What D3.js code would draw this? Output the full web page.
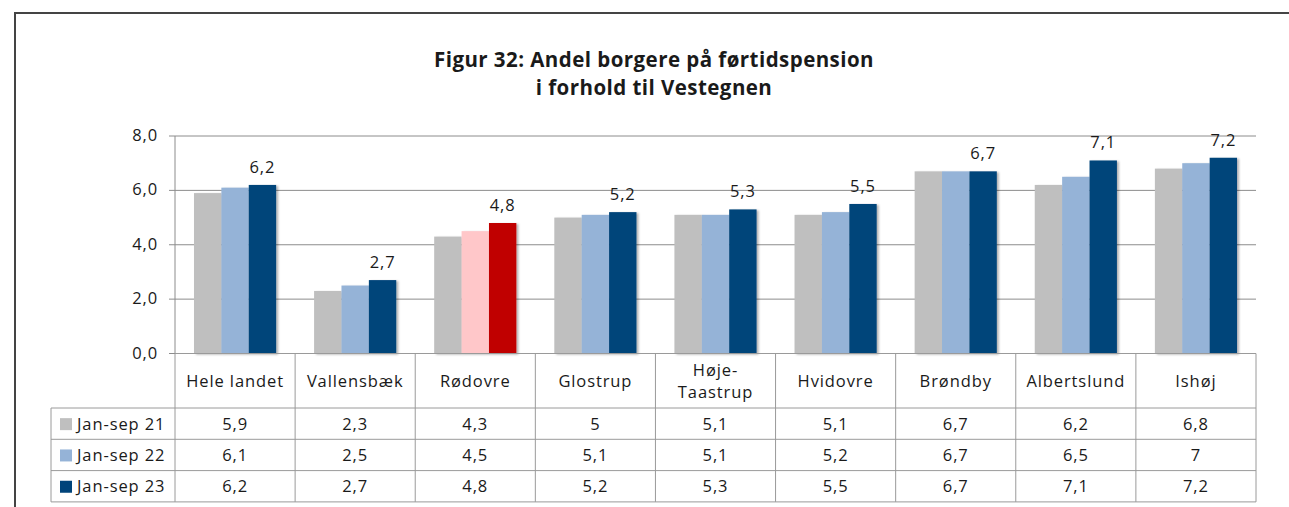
<!DOCTYPE html>
<html>
<head>
<meta charset="utf-8">
<script src="https://cdn.jsdelivr.net/npm/d3@7"></script>
<style>
  body { margin: 0; background: #fff; }
  svg text { font-family: "Open Sans", "DejaVu Sans", sans-serif; fill: #1a1a1a; }
  svg .lbl { font-size: 16.5px; letter-spacing: 0.9px; }
</style>
</head>
<body>
<div id="chart"></div>
<script>
// data
const categories = ["Hele landet", "Vallensbæk", "Rødovre", "Glostrup", "Høje-Taastrup", "Hvidovre", "Brøndby", "Albertslund", "Ishøj"];
const seriesNames = ["Jan-sep 21", "Jan-sep 22", "Jan-sep 23"];
const values21 = [5.9, 2.3, 4.3, 5, 5.1, 5.1, 6.7, 6.2, 6.8];
const values22 = [6.1, 2.5, 4.5, 5.1, 5.1, 5.2, 6.7, 6.5, 7];
const values23 = [6.2, 2.7, 4.8, 5.2, 5.3, 5.5, 6.7, 7.1, 7.2];
const yTicks = [0, 2, 4, 6, 8];
const titleLines = ["Figur 32: Andel borgere på førtidspension", "i forhold til Vestegnen"];

const seriesValues = [values21, values22, values23];
const seriesColors = ["#bfbfbf", "#95b3d7", "#00447a"];
// Rødovre is highlighted in red tones
const highlight = "Rødovre";
const highlightColors = ["#bfbfbf", "#ffc7c9", "#c00000"];

const width = 1289, height = 507;
const plot = { left: 175, right: 1256, top: 136, bottom: 353.5 };
const table = { legendLeft: 51, catBottom: 408, rowH: 31.3 };

const svg = d3.select('#chart').append('svg')
  .attr('width', width)
  .attr('height', height);

// soft shadow on the bars
const defs = svg.append('defs');
defs.append('filter').attr('id', 'shadow')
  .attr('x', '-20%').attr('y', '-5%').attr('width', '150%').attr('height', '115%')
  .append('feDropShadow')
  .attr('dx', 2).attr('dy', 1).attr('stdDeviation', 1.3)
  .attr('flood-color', '#000').attr('flood-opacity', 0.3);

// outer frame (top and left edges visible)
svg.append('path')
  .attr('d', `M15,${height} V13 H${width}`)
  .attr('fill', 'none')
  .attr('stroke', '#444')
  .attr('stroke-width', 2);

// title
svg.append('g').selectAll('text')
  .data(titleLines)
  .join('text')
  .attr('x', 654)
  .attr('y', (d, i) => 67 + i * 28)
  .attr('text-anchor', 'middle')
  .attr('font-weight', 'bold')
  .attr('font-size', 20.5)
  .attr('letter-spacing', 0.45)
  .text(d => d);

const fmt1 = d3.format('.1f');
const comma = s => s.replace('.', ',');

const x0 = d3.scaleBand().domain(categories).range([plot.left, plot.right]).padding(0);
const bw = x0.bandwidth();
const x1 = d3.scaleBand().domain(seriesNames).range([bw * 0.158, bw * 0.842]).padding(0);
const y = d3.scaleLinear().domain([0, 8]).range([plot.bottom, plot.top]);

// gridlines
svg.append('g').selectAll('line')
  .data(yTicks)
  .join('line')
  .attr('x1', plot.left - 6)
  .attr('x2', plot.right)
  .attr('y1', d => y(d))
  .attr('y2', d => y(d))
  .attr('stroke', '#8c8c8c')
  .attr('stroke-width', 1);

// y axis line
svg.append('line')
  .attr('x1', plot.left).attr('x2', plot.left)
  .attr('y1', plot.top).attr('y2', plot.bottom)
  .attr('stroke', '#8c8c8c');

// y tick labels
svg.append('g').selectAll('text')
  .data(yTicks)
  .join('text')
  .attr('class', 'lbl')
  .attr('x', plot.left - 17)
  .attr('y', d => y(d) + 5)
  .attr('text-anchor', 'end')
  .text(d => comma(fmt1(d)));

// bars
const groups = svg.append('g')
  .selectAll('g')
  .data(categories)
  .join('g')
  .attr('transform', d => `translate(${x0(d)},0)`);

groups.selectAll('rect')
  .data((c, ci) => seriesNames.map((s, si) => ({ c, s, si, v: seriesValues[si][ci] })))
  .join('rect')
  .attr('x', d => x1(d.s))
  .attr('y', d => y(d.v))
  .attr('width', x1.bandwidth())
  .attr('height', d => y(0) - y(d.v))
  .attr('fill', d => d.c === highlight ? highlightColors[d.si] : seriesColors[d.si])
  .attr('filter', 'url(#shadow)');

// value labels on the latest series
groups.append('text')
  .attr('class', 'lbl')
  .attr('x', d => x1(seriesNames[2]) + x1.bandwidth() / 2)
  .attr('y', (d, i) => y(values23[i]) - 12)
  .attr('text-anchor', 'middle')
  .text((d, i) => comma(fmt1(values23[i])));

// data table
const tbl = svg.append('g');
const lineColor = '#9a9a9a';
const rowTop = i => table.catBottom + i * table.rowH;
const tableBottom = rowTop(seriesNames.length);

// horizontal lines
tbl.append('line')
  .attr('x1', plot.left).attr('x2', plot.right)
  .attr('y1', plot.bottom).attr('y2', plot.bottom)
  .attr('stroke', lineColor);
d3.range(seriesNames.length + 1).forEach(i => {
  tbl.append('line')
    .attr('x1', table.legendLeft).attr('x2', plot.right)
    .attr('y1', rowTop(i)).attr('y2', rowTop(i))
    .attr('stroke', lineColor);
});
// vertical lines
tbl.append('line')
  .attr('x1', table.legendLeft).attr('x2', table.legendLeft)
  .attr('y1', table.catBottom).attr('y2', tableBottom)
  .attr('stroke', lineColor);
tbl.selectAll('.vline')
  .data(categories.concat(['end']))
  .join('line')
  .attr('class', 'vline')
  .attr('x1', d => d === 'end' ? plot.right : x0(d))
  .attr('x2', d => d === 'end' ? plot.right : x0(d))
  .attr('y1', plot.bottom)
  .attr('y2', tableBottom)
  .attr('stroke', lineColor);

// category labels (split on hyphen for Høje-Taastrup)
tbl.selectAll('.cat')
  .data(categories)
  .join('text')
  .attr('class', 'cat lbl')
  .attr('text-anchor', 'middle')
  .each(function (d) {
    const parts = d.includes('-') ? [d.split('-')[0] + '-', d.split('-')[1]] : [d];
    const cx = x0(d) + bw / 2;
    const mid = (plot.bottom + table.catBottom) / 2 + 6;
    d3.select(this).selectAll('tspan')
      .data(parts)
      .join('tspan')
      .attr('x', cx)
      .attr('y', (p, i) => mid + (i - (parts.length - 1) / 2) * 21.5)
      .text(p => p);
  });

// legend column + values
seriesNames.forEach((s, si) => {
  const cy = rowTop(si) + table.rowH / 2;
  tbl.append('rect')
    .attr('x', 60).attr('y', cy - 5.5)
    .attr('width', 12).attr('height', 12)
    .attr('fill', seriesColors[si]);
  tbl.append('text')
    .attr('class', 'lbl')
    .attr('x', 77).attr('y', cy + 6)
    .text(s);
  tbl.append('g').selectAll('text')
    .data(categories)
    .join('text')
    .attr('class', 'lbl')
    .attr('x', d => x0(d) + bw / 2)
    .attr('y', cy + 6)
    .attr('text-anchor', 'middle')
    .text((d, ci) => comma(String(seriesValues[si][ci])));
});
</script>
</body>
</html>
